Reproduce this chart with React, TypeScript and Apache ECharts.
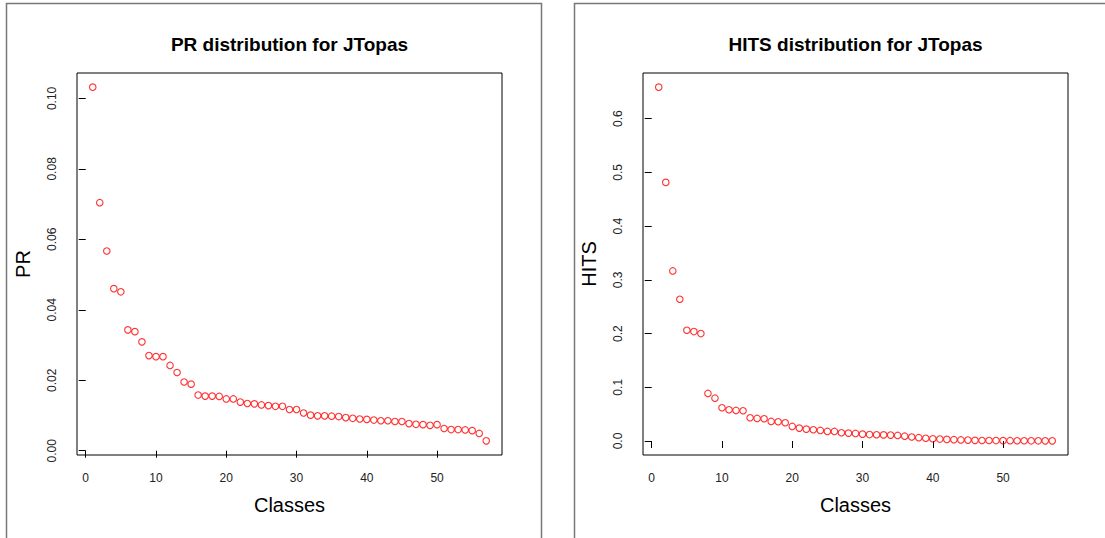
import React, { useEffect, useRef } from "react";
import * as echarts from "echarts";

const prValues = [
  0.1032, 0.0704, 0.0567, 0.046, 0.0451, 0.0343, 0.0338, 0.0309, 0.027, 0.0267,
  0.0267, 0.0242, 0.0222, 0.0195, 0.0189, 0.0158, 0.0155, 0.0155, 0.0154, 0.0147,
  0.0147, 0.0138, 0.0134, 0.0133, 0.013, 0.0128, 0.0126, 0.0126, 0.0117, 0.0117,
  0.0107, 0.0101, 0.0099, 0.0099, 0.0098, 0.0097, 0.0094, 0.0092, 0.009, 0.0089,
  0.0087, 0.0085, 0.0085, 0.0083, 0.0083, 0.0077, 0.0075, 0.0074, 0.0072, 0.0074,
  0.0063, 0.006, 0.006, 0.0059, 0.0057, 0.0049, 0.0028,
];

const hitsValues = [
  0.6586, 0.4813, 0.3165, 0.2638, 0.2062, 0.2037, 0.2, 0.0885, 0.0797, 0.0619,
  0.0582, 0.0569, 0.0563, 0.0433, 0.042, 0.0414, 0.0364, 0.0359, 0.034, 0.0271,
  0.024, 0.0221, 0.021, 0.0197, 0.0178, 0.0178, 0.0154, 0.0147, 0.0141, 0.0128,
  0.012, 0.0116, 0.0114, 0.011, 0.0104, 0.009, 0.0075, 0.0062, 0.0052, 0.0042,
  0.0036, 0.003, 0.0025, 0.002, 0.0017, 0.0012, 0.001, 0.0009, 0.0008, 0.0007,
  0.0006, 0.0005, 0.0005, 0.0004, 0.0004, 0.0003, 0.0003,
];

const xTicks = [0, 10, 20, 30, 40, 50];
const prTicks = [0, 0.02, 0.04, 0.06, 0.08, 0.1];
const hitsTicks = [0, 0.1, 0.2, 0.3, 0.4, 0.5, 0.6];

const titles = ["PR distribution for JTopas", "HITS distribution for JTopas"];
const xName = "Classes";
const yNames = ["PR", "HITS"];

const FONT = "'Liberation Sans', Arial, Helvetica, sans-serif";

// R-style 4% range extension
function rRange(vals: number[]): [number, number] {
  const lo = Math.min(...vals);
  const hi = Math.max(...vals);
  const d = (hi - lo) * 0.04;
  return [lo - d, hi + d];
}

export default function App() {
  const ref = useRef<HTMLDivElement>(null);

  useEffect(() => {
    if (!ref.current) return;
    const chart = echarts.init(ref.current, null, { renderer: "svg" });

    const xIdx = prValues.map((_, i) => i + 1);
    const [xMin, xMax] = rRange(xIdx);
    const [prMin, prMax] = rRange(prValues);
    const [hMin, hMax] = rRange(hitsValues);

    const grids = [
      { left: 77, top: 73, width: 425, height: 382 },
      { left: 643, top: 73, width: 425, height: 382 },
    ];

    const mkX = (gi: number) => ({
      type: "value",
      gridIndex: gi,
      min: xMin,
      max: xMax,
      name: xName,
      nameLocation: "middle",
      nameGap: 40,
      nameTextStyle: { fontFamily: FONT, fontSize: 20, color: "#000" },
      axisLine: { show: false },
      splitLine: { show: false },
      axisTick: {
        show: true,
        inside: false,
        length: 7,
        customValues: xTicks,
        lineStyle: { color: "#000", width: 1 },
      },
      axisLabel: {
        show: true,
        customValues: xTicks,
        margin: 17,
        fontFamily: FONT,
        fontSize: 12,
        color: "#222",
        formatter: (v: number) => String(v),
      },
    });

    const mkY = (gi: number, min: number, max: number, ticks: number[], dec: number) => ({
      type: "value",
      gridIndex: gi,
      min,
      max,
      name: yNames[gi],
      nameLocation: "middle",
      nameRotate: 90,
      nameGap: 44,
      nameTextStyle: { fontFamily: FONT, fontSize: 20, color: "#000" },
      axisLine: { show: false },
      splitLine: { show: false },
      axisTick: {
        show: true,
        inside: false,
        length: 7,
        customValues: ticks,
        lineStyle: { color: "#000", width: 1 },
      },
      axisLabel: {
        show: true,
        customValues: ticks,
        rotate: 90,
        margin: 19,
        fontFamily: FONT,
        fontSize: 12,
        color: "#222",
        formatter: (v: number) => v.toFixed(dec),
      },
    });

    const mkSeries = (gi: number, vals: number[]) => ({
      type: "scatter",
      xAxisIndex: gi,
      yAxisIndex: gi,
      symbol: "circle",
      symbolSize: 6.5,
      silent: true,
      itemStyle: { color: "rgba(255,255,255,0)", borderColor: "#ff0000", borderWidth: 1.1 },
      emphasis: { disabled: true },
      data: vals.map((v, i) => [xIdx[i], v]),
    });

    const option = {
      animation: false,
      backgroundColor: "#fff",
      grid: grids.map((g) => ({
        ...g,
        show: true,
        borderColor: "#000",
        borderWidth: 1,
        backgroundColor: "transparent",
        containLabel: false,
      })),
      xAxis: [mkX(0), mkX(1)],
      yAxis: [mkY(0, prMin, prMax, prTicks, 2), mkY(1, hMin, hMax, hitsTicks, 1)],
      series: [mkSeries(0, prValues), mkSeries(1, hitsValues)],
      graphic: [
        {
          type: "rect",
          silent: true,
          shape: { x: 6.5, y: 3.5, width: 535, height: 600 },
          style: { fill: "none", stroke: "#777", lineWidth: 1.5 },
        },
        {
          type: "rect",
          silent: true,
          shape: { x: 574.5, y: 3.5, width: 600, height: 600 },
          style: { fill: "none", stroke: "#777", lineWidth: 1.5 },
        },
        {
          type: "text",
          silent: true,
          x: grids[0].left + grids[0].width / 2,
          y: 44,
          style: {
            text: titles[0],
            fontFamily: FONT,
            fontSize: 19,
            fontWeight: "bold",
            fill: "#000",
            align: "center",
            verticalAlign: "middle",
          },
        },
        {
          type: "text",
          silent: true,
          x: grids[1].left + grids[1].width / 2,
          y: 44,
          style: {
            text: titles[1],
            fontFamily: FONT,
            fontSize: 19,
            fontWeight: "bold",
            fill: "#000",
            align: "center",
            verticalAlign: "middle",
          },
        },
      ],
    };

    chart.setOption(option as any);
    return () => chart.dispose();
  }, []);

  return (
    <div
      ref={ref}
      style={{ position: "absolute", left: 0, top: 0, width: 1105, height: 538 }}
    />
  );
}
